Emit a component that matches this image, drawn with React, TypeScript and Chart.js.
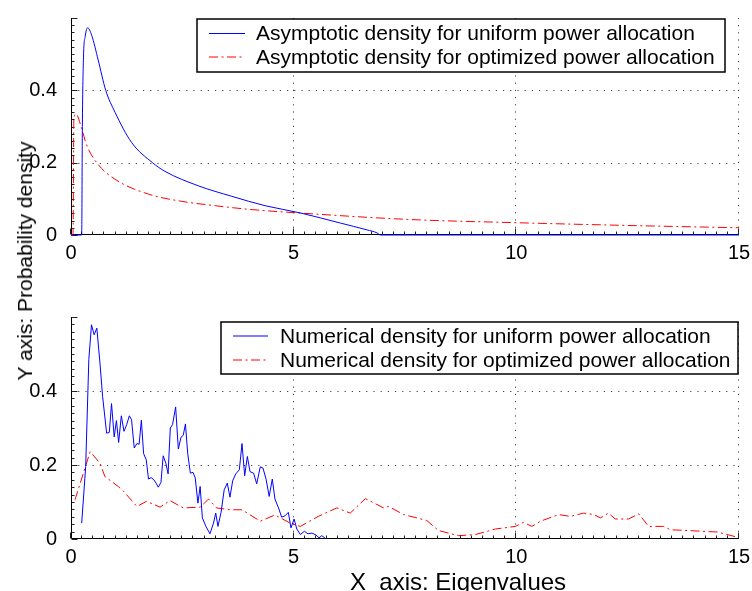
import React, { useEffect, useRef } from "react";
import { Chart, registerables } from "chart.js";

Chart.register(...registerables);

// ---------- data ----------
const xTickValues = [0, 5, 10, 15];
const yTickValues = [0, 0.2, 0.4];

const topUniformLabel = "Asymptotic density for uniform power allocation";
const topOptimizedLabel = "Asymptotic density for optimized power allocation";
const bottomUniformLabel = "Numerical density for uniform power allocation";
const bottomOptimizedLabel = "Numerical density for optimized power allocation";

const topUniformX = [0, 0.24, 0.255, 0.28, 0.32, 0.375, 0.465, 0.61, 0.78, 0.99, 1.36, 1.83, 2.11, 2.86, 3.61, 4.36, 5.15, 6.05, 6.65, 6.87, 6.95, 15];
const topUniformY = [0, 0, 0.3, 0.49, 0.55, 0.573, 0.552, 0.484, 0.4, 0.339, 0.256, 0.2, 0.176, 0.136, 0.107, 0.081, 0.061, 0.033, 0.014, 0.006, 0, 0];

const topOptimizedX = [0, 0.045, 0.065, 0.11, 0.24, 0.35, 0.61, 0.99, 1.74, 2.49, 3.24, 3.99, 5.11, 7.58, 10.0, 12.64, 15];
const topOptimizedY = [0, 0, 0.32, 0.335, 0.294, 0.249, 0.195, 0.154, 0.113, 0.093, 0.081, 0.071, 0.061, 0.043, 0.034, 0.026, 0.02];

const bottomUniformX = [0.24, 0.33, 0.40, 0.46, 0.52, 0.58, 0.65, 0.71, 0.80, 0.86, 0.91, 0.97, 1.02, 1.07, 1.13, 1.19, 1.25, 1.31, 1.36, 1.42, 1.48, 1.53, 1.58, 1.63, 1.69, 1.74, 1.80, 1.86, 1.91, 1.96, 2.02, 2.07, 2.13, 2.18, 2.23, 2.28, 2.35, 2.41, 2.47, 2.52, 2.57, 2.62, 2.68, 2.74, 2.79, 2.85, 2.90, 2.95, 3.03, 3.12, 3.20, 3.25, 3.30, 3.37, 3.44, 3.51, 3.57, 3.63, 3.70, 3.78, 3.84, 3.90, 3.96, 4.02, 4.10, 4.17, 4.25, 4.31, 4.38, 4.45, 4.52, 4.58, 4.66, 4.73, 4.81, 4.88, 4.94, 5.01, 5.07, 5.15, 5.24, 5.32, 5.41, 5.50, 5.57, 5.63, 5.72];
const bottomUniformY = [0.043, 0.196, 0.485, 0.579, 0.552, 0.570, 0.476, 0.385, 0.286, 0.288, 0.366, 0.276, 0.320, 0.261, 0.333, 0.291, 0.309, 0.333, 0.322, 0.246, 0.258, 0.256, 0.321, 0.231, 0.214, 0.162, 0.166, 0.160, 0.151, 0.140, 0.153, 0.225, 0.205, 0.176, 0.300, 0.309, 0.357, 0.243, 0.275, 0.28, 0.311, 0.232, 0.178, 0.180, 0.165, 0.097, 0.142, 0.057, 0.034, 0.014, 0.043, 0.070, 0.034, 0.072, 0.133, 0.151, 0.113, 0.157, 0.176, 0.187, 0.258, 0.171, 0.223, 0.182, 0.178, 0.149, 0.195, 0.192, 0.162, 0.115, 0.162, 0.108, 0.084, 0.059, 0.063, 0.072, 0.030, 0.054, 0.027, 0.012, 0.021, 0.014, 0.016, 0.011, 0.003, 0.009, 0.001];

const bottomOptimizedX = [0.09, 0.43, 0.65, 0.76, 1.06, 1.18, 1.48, 1.70, 2.00, 2.22, 2.52, 2.90, 3.09, 3.27, 3.57, 3.84, 4.25, 4.58, 4.92, 5.15, 5.55, 5.97, 6.27, 6.61, 7.02, 7.13, 7.47, 7.99, 8.25, 8.70, 9.08, 9.53, 9.98, 10.16, 10.35, 10.54, 10.95, 11.21, 11.51, 11.74, 11.89, 12.07, 12.22, 12.52, 12.75, 12.97, 13.31, 13.46, 13.84, 14.29, 14.51, 14.96];
const bottomOptimizedY = [0.106, 0.236, 0.205, 0.169, 0.142, 0.129, 0.088, 0.102, 0.086, 0.104, 0.084, 0.086, 0.108, 0.084, 0.079, 0.079, 0.048, 0.065, 0.043, 0.034, 0.061, 0.084, 0.070, 0.109, 0.084, 0.088, 0.066, 0.050, 0.023, 0.009, 0.012, 0.027, 0.034, 0.045, 0.034, 0.048, 0.066, 0.061, 0.070, 0.066, 0.057, 0.070, 0.054, 0.054, 0.068, 0.034, 0.034, 0.025, 0.023, 0.020, 0.019, 0.005];

const yAxisTitle = "Y axis: Probability density";
const xAxisTitle = "X  axis: Eigenvalues";

// ---------- styling ----------
const FONT = '"Liberation Sans", Arial, Helvetica, sans-serif';
const BLUE = "#0000ff";
const RED = "#ff0000";
const DASHDOT = [9, 3.5, 2, 3.5];

const pts = (xs: number[], ys: number[]) => xs.map((x, i) => ({ x, y: ys[i] }));

const matlabAxes = {
  id: "matlabAxes",
  beforeDatasetsDraw(chart: any) {
    const { ctx, chartArea: a, scales } = chart;
    const xs = scales.x;
    const ys = scales.y;
    ctx.save();
    ctx.lineWidth = 1;
    // dotted grid
    ctx.strokeStyle = "#444";
    ctx.setLineDash([1.2, 6]);
    xTickValues.forEach((v) => {
      if (v === 0) return;
      const px = Math.round(xs.getPixelForValue(v)) - 0.5;
      ctx.beginPath();
      ctx.moveTo(px, a.bottom);
      ctx.lineTo(px, a.top);
      ctx.stroke();
    });
    yTickValues.forEach((v) => {
      if (v === 0) return;
      const py = Math.round(ys.getPixelForValue(v)) + 0.5;
      ctx.beginPath();
      ctx.moveTo(a.left, py);
      ctx.lineTo(a.right, py);
      ctx.stroke();
    });
    ctx.setLineDash([]);
    // axis lines
    ctx.strokeStyle = "#000";
    const left = Math.round(a.left) + 0.5;
    const bottom = Math.round(a.bottom) - 0.5;
    ctx.beginPath();
    ctx.moveTo(left, a.top);
    ctx.lineTo(left, bottom);
    ctx.lineTo(a.right, bottom);
    ctx.stroke();
    // inward ticks (major + minor)
    ctx.strokeStyle = "#222";
    for (let i = 0; i <= 60; i++) {
      const px = Math.round(xs.getPixelForValue(i * 0.25)) - 0.5;
      const len = i % 20 === 0 ? 6 : 3;
      ctx.beginPath();
      ctx.moveTo(px, bottom);
      ctx.lineTo(px, bottom - len);
      ctx.stroke();
    }
    for (let i = 0; i <= 30; i++) {
      const py = Math.round(ys.getPixelForValue(i * 0.02)) + 0.5;
      const len = i % 10 === 0 ? 6 : 3;
      ctx.beginPath();
      ctx.moveTo(left, py);
      ctx.lineTo(left + len, py);
      ctx.stroke();
    }
    ctx.restore();
  },
  afterDatasetsDraw(chart: any, _args: any, opts: any) {
    if (!opts || !opts.box) return;
    const { ctx } = chart;
    const [l, t, r, b] = opts.box;
    ctx.save();
    ctx.fillStyle = "#fff";
    ctx.fillRect(l, t, r - l, b - t);
    ctx.strokeStyle = "#000";
    ctx.lineWidth = 1.5;
    ctx.strokeRect(l, t, r - l, b - t);
    ctx.font = `21px ${FONT}`;
    ctx.textBaseline = "middle";
    ctx.textAlign = "left";
    chart.data.datasets.forEach((ds: any, i: number) => {
      const yy = opts.rows[i];
      ctx.strokeStyle = ds.borderColor;
      ctx.lineWidth = 1;
      ctx.setLineDash(ds.borderDash || []);
      ctx.beginPath();
      ctx.moveTo(opts.line[0], yy);
      ctx.lineTo(opts.line[1], yy);
      ctx.stroke();
      ctx.setLineDash([]);
      ctx.fillStyle = "#000";
      ctx.fillText(ds.label, opts.textX, yy + 1);
    });
    ctx.restore();
  },
};

function makeConfig(datasets: any[], padTop: number, xHeight: number, legendOpts: any): any {
  return {
    type: "line",
    data: { datasets },
    options: {
      responsive: false,
      animation: false,
      events: [],
      layout: { padding: { top: padTop, right: 13, left: 0, bottom: 0 } },
      plugins: {
        legend: { display: false },
        tooltip: { enabled: false },
        matlabAxes: legendOpts,
      },
      scales: {
        x: {
          type: "linear",
          min: 0,
          max: 15,
          grid: { display: false },
          border: { display: false },
          afterBuildTicks: (s: any) => {
            s.ticks = xTickValues.map((v) => ({ value: v }));
          },
          afterFit: (s: any) => {
            s.height = xHeight;
          },
          ticks: {
            color: "#000",
            font: { family: FONT, size: 20 },
            padding: -2,
            maxRotation: 0,
            autoSkip: false,
            callback: (v: any) => String(v),
          },
        },
        y: {
          type: "linear",
          min: 0,
          max: 0.6,
          grid: { display: false },
          border: { display: false },
          afterBuildTicks: (s: any) => {
            s.ticks = yTickValues.map((v) => ({ value: v }));
          },
          afterFit: (s: any) => {
            s.width = 71;
          },
          ticks: {
            color: "#000",
            font: { family: FONT, size: 20 },
            padding: 6,
            autoSkip: false,
            callback: (v: any) => String(v),
          },
        },
      },
    },
    plugins: [matlabAxes],
  };
}

export default function App() {
  const topRef = useRef<HTMLCanvasElement>(null);
  const botRef = useRef<HTMLCanvasElement>(null);

  useEffect(() => {
    const topChart = new Chart(
      topRef.current as HTMLCanvasElement,
      makeConfig(
        [
          {
            label: topUniformLabel,
            data: pts(topUniformX, topUniformY),
            borderColor: BLUE,
            borderWidth: 1,
            pointRadius: 0,
            fill: false,
            cubicInterpolationMode: "monotone",
            clip: 5,
          },
          {
            label: topOptimizedLabel,
            data: pts(topOptimizedX, topOptimizedY),
            borderColor: RED,
            borderWidth: 1,
            borderDash: DASHDOT,
            pointRadius: 0,
            fill: false,
            cubicInterpolationMode: "monotone",
            clip: 5,
          },
        ],
        13,
        55,
        { box: [197, 19, 725, 72], rows: [33.5, 57], line: [209, 245], textX: 256 }
      )
    );
    const bottomChart = new Chart(
      botRef.current as HTMLCanvasElement,
      makeConfig(
        [
          {
            label: bottomUniformLabel,
            data: pts(bottomUniformX, bottomUniformY),
            borderColor: BLUE,
            borderWidth: 1,
            pointRadius: 0,
            fill: false,
            tension: 0,
            clip: 5,
          },
          {
            label: bottomOptimizedLabel,
            data: pts(bottomOptimizedX, bottomOptimizedY),
            borderColor: RED,
            borderWidth: 1,
            borderDash: DASHDOT,
            pointRadius: 0,
            fill: false,
            tension: 0,
            clip: 5,
          },
        ],
        27,
        52,
        { box: [221, 32, 738, 84], rows: [46, 70], line: [233, 268], textX: 280 }
      )
    );
    return () => {
      topChart.destroy();
      bottomChart.destroy();
    };
  }, []);

  return (
    <div
      style={{
        position: "absolute",
        left: 0,
        top: 0,
        width: 752,
        height: 591,
        background: "#fff",
        overflow: "hidden",
        fontFamily: FONT,
      }}
    >
      <canvas ref={topRef} width={752} height={290} style={{ position: "absolute", left: 0, top: 0 }} />
      <canvas ref={botRef} width={752} height={301} style={{ position: "absolute", left: 0, top: 290 }} />
      <div
        style={{
          position: "absolute",
          left: 25,
          top: 261,
          transform: "translate(-50%, -50%) rotate(-90deg)",
          whiteSpace: "nowrap",
          fontSize: 21,
          lineHeight: "24px",
          color: "#000",
        }}
      >
        {yAxisTitle}
      </div>
      <div
        style={{
          position: "absolute",
          left: 350,
          top: 570,
          whiteSpace: "pre",
          fontSize: 24,
          lineHeight: "24px",
          color: "#000",
        }}
      >
        {xAxisTitle}
      </div>
    </div>
  );
}
